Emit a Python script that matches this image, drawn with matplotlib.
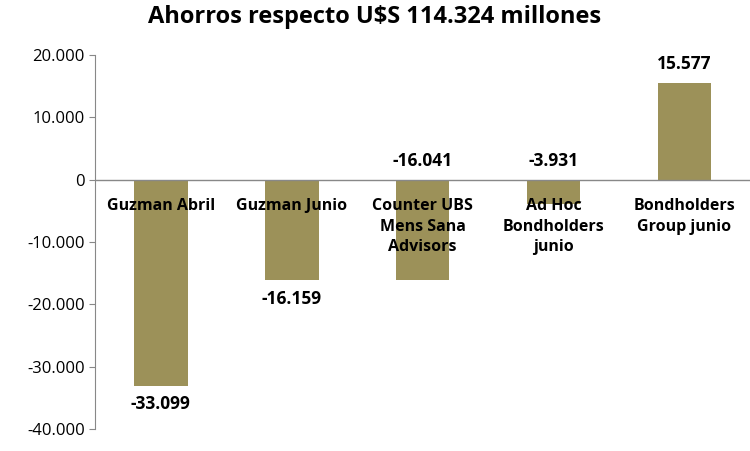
import matplotlib.pyplot as plt
from matplotlib.ticker import FuncFormatter

categories = ["Guzman Abril", "Guzman Junio", "Counter UBS\nMens Sana\nAdvisors",
              "Ad Hoc\nBondholders\njunio", "Bondholders\nGroup junio"]
values = [-33099, -16159, -16041, -3931, 15577]
labels = ["-33.099", "-16.159", "-16.041", "-3.931", "15.577"]
above = [False, False, True, True, True]

plt.rcParams['font.family'] = ['Open Sans', 'DejaVu Sans']

fig = plt.figure(figsize=(7.5, 4.51), dpi=100)
ax = fig.add_axes([0.127, 0.049, 0.873, 0.829])
x = range(len(values))
ax.bar(x, values, width=0.41, color="#9c9159", zorder=2)
ax.set_xlim(-0.5, 4.5)
ax.set_ylim(-40000, 20000)
ax.set_yticks(range(-40000, 20001, 10000))
ax.yaxis.set_major_formatter(FuncFormatter(lambda v, p: f"{int(v):,}".replace(",", ".")))
ax.tick_params(axis='y', labelsize=12, length=4, color="#888888")
ax.set_xticks([])
for s in ["top", "right", "bottom"]:
    ax.spines[s].set_visible(False)
ax.spines["left"].set_color("#888888")
ax.axhline(0, color="#888888", lw=1, zorder=3)

for i, (v, lab, up) in enumerate(zip(values, labels, above)):
    y = max(v, 0) + 1500 if up else v - 1500
    ax.text(i, y, lab, ha="center", va="bottom" if up else "top",
            fontsize=12.5, fontweight="bold")
    ax.text(i, -2900, categories[i], ha="center", va="top", fontsize=11.5,
            fontweight="bold", linespacing=1.4, zorder=4)

fig.suptitle("Ahorros respecto U$S 114.324 millones", fontsize=17,
             fontweight="bold", y=0.99)
fig.savefig("out.png", dpi=100)
